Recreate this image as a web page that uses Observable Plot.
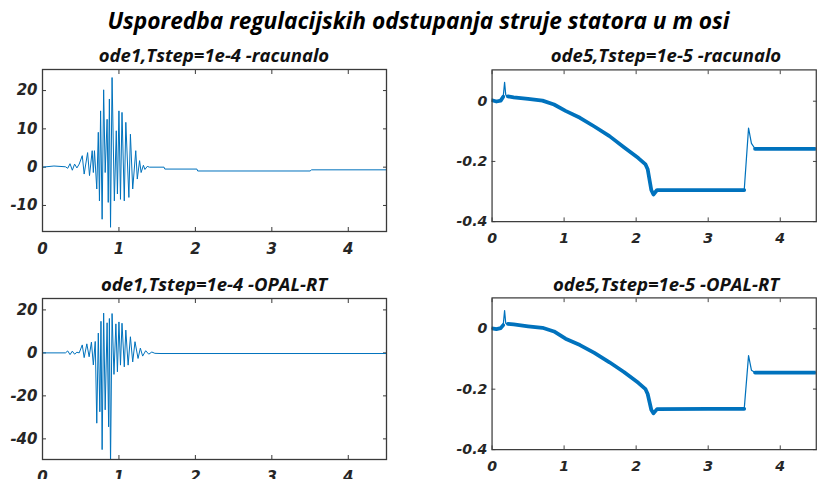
<!DOCTYPE html>
<html><head><meta charset="utf-8">
<script src="https://cdn.jsdelivr.net/npm/d3@7"></script>
<script src="https://cdn.jsdelivr.net/npm/@observablehq/plot@0.6"></script>
<style>
html,body{margin:0;padding:0;background:#fff;overflow:hidden;width:829px;height:479px;}
#wrap{position:relative;width:829px;height:479px;overflow:hidden;background:#fff;}
.title{position:absolute;left:0;width:829px;text-align:center;font-family:"Open Sans";font-weight:700;font-style:italic;color:#000;white-space:nowrap;}
.sub{position:absolute;width:400px;text-align:center;font-family:"Open Sans";font-weight:700;font-style:italic;font-size:18.5px;line-height:20px;color:#111;white-space:nowrap;}
.panel{position:absolute;}
</style></head>
<body><div id="wrap">
<div class="title" style="left:4px;top:8px;font-size:22.7px;line-height:26px">Usporedba regulacijskih odstupanja struje statora u m osi</div>
<div class="sub" style="left:14px;top:45px">ode1,Tstep=1e-4 -racunalo</div>
<div class="sub" style="left:466px;top:45px">ode5,Tstep=1e-5 -racunalo</div>
<div class="sub" style="left:14px;top:274px">ode1,Tstep=1e-4 -OPAL-RT</div>
<div class="sub" style="left:466px;top:274px">ode5,Tstep=1e-5 -OPAL-RT</div>
<div id="tl" class="panel" style="left:0px;top:60px"></div>
<div id="tr" class="panel" style="left:452px;top:60px"></div>
<div id="bl" class="panel" style="left:0px;top:288px"></div>
<div id="br" class="panel" style="left:452px;top:288px"></div>
</div>
<script>
// x ticks (time, s)
const xTicks = [0, 1, 2, 3, 4];
const xDomain = [0, 4.5];

// ode1, racunalo
const tlT = [0,0.15,0.3,0.33,0.36,0.39,0.42,0.45,0.48,0.52,0.545,0.59,0.615,0.65,0.665,0.68,0.71,0.73,0.745,0.76,0.78,0.80,0.82,0.845,0.86,0.875,0.89,0.91,0.94,0.965,0.98,1.0,1.02,1.04,1.07,1.09,1.13,1.15,1.18,1.22,1.24,1.27,1.29,1.32,1.34,1.37,1.4,1.59,1.6,2.02,2.03,3.5,3.52,4.5];
const tlV = [0,0.3,0.1,-0.3,0.9,-0.8,0.8,-0.2,0.8,3.0,-1.8,3.8,-2.2,4.3,-1.4,4.3,-5.7,9.1,-8.8,14.7,-13.6,20.2,-1.4,12.5,-9.2,17.8,-15.7,23.4,-8.8,9.5,-7,14.7,-8.4,14.3,-8.8,11.7,-7.9,8.6,-5.7,4.3,-3.1,1.7,-1.4,0.5,-0.6,0.2,0,0,-0.5,-0.5,-1.0,-1.0,-0.7,-0.7];
const tlYTicks = [-10, 0, 10, 20];

// ode1, OPAL-RT
const blT = [0,0.3,0.33,0.36,0.39,0.42,0.45,0.48,0.52,0.545,0.58,0.61,0.64,0.665,0.69,0.71,0.73,0.75,0.765,0.78,0.80,0.82,0.845,0.865,0.875,0.89,0.91,0.935,0.96,0.98,1.0,1.02,1.04,1.07,1.09,1.12,1.15,1.18,1.21,1.25,1.28,1.31,1.35,1.39,1.43,1.47,1.55,4.5];
const blV = [0,0,0.9,-0.8,0.8,-0.6,0.3,0,3.7,-2.2,4.2,-1.8,5.0,-5.6,5.3,-32.7,9.2,-27.4,14.7,-45,18.5,-26.5,14,-34.4,16,-52,18.3,-10,13.5,-8.8,14.4,-5.7,13.8,-6.5,10.6,-5.7,7.5,-4.2,5.2,-2.6,2.2,-1.5,1.0,-0.6,0.4,-0.2,-0.3,-0.3];
const blYTicks = [-40, -20, 0, 20];

// ode5, racunalo
const trT = [0,0.06,0.12,0.155,0.174,0.19,0.22,0.3,0.5,0.7,0.86,1.02,1.22,1.42,1.63,1.83,2.03,2.13,2.16,2.21,2.24,2.29,3.0,3.5,3.56,3.6,3.65,4.5];
const trV = [0.003,-0.001,0.002,0.015,0.063,0.021,0.016,0.013,0.008,0.002,-0.011,-0.032,-0.055,-0.084,-0.116,-0.153,-0.189,-0.21,-0.226,-0.295,-0.31,-0.295,-0.295,-0.295,-0.089,-0.14,-0.158,-0.158];

// ode5, OPAL-RT
const brT = [0,0.06,0.12,0.155,0.174,0.19,0.22,0.3,0.5,0.7,0.86,1.02,1.22,1.42,1.63,1.83,2.03,2.13,2.16,2.21,2.24,2.29,3.0,3.5,3.56,3.6,3.65,4.5];
const brV = [0.001,-0.001,0.002,0.012,0.06,0.018,0.016,0.014,0.008,0.003,-0.009,-0.033,-0.054,-0.08,-0.111,-0.143,-0.179,-0.2,-0.216,-0.268,-0.28,-0.266,-0.265,-0.265,-0.089,-0.137,-0.145,-0.145];
const rYTicks = [-0.4, -0.2, 0];

const blue = "#0072BD";
const axisColor = "#3a3a3a";
const font = {fontFamily: "DejaVu Sans", fontSize: 15, fontWeight: "bold", fontStyle: "italic"};

function rows(T, V) { return T.map((t, i) => ({t, v: V[i]})); }

function panel(el, T, V, yDomain, yTicks, mt, thick) {
  const data = rows(T, V);
  const marks = [
    Plot.axisX({ticks: xTicks, tickSize: -4, tickPadding: 16, tickFormat: d => String(d), label: null, stroke: axisColor, fill: "#262626", ...font}),
    Plot.axisX({anchor: "top", ticks: xTicks, tickSize: -4, tickFormat: () => "", label: null, stroke: axisColor}),
    Plot.axisY({ticks: yTicks, tickSize: -4, tickPadding: 9, tickFormat: d => String(d), label: null, stroke: axisColor, fill: "#262626", ...font}),
    Plot.axisY({anchor: "right", ticks: yTicks, tickSize: -4, tickFormat: () => "", label: null, stroke: axisColor}),
  ];
  if (thick) {
    const spike = t => (t > 0.16 && t < 0.2) || (t > 3.51 && t < 3.63);
    marks.push(Plot.line(data, {x: "t", y: "v", stroke: blue, strokeWidth: 1.3, clip: true}));
    marks.push(Plot.line(data, {x: "t", y: d => spike(d.t) ? NaN : d.v, stroke: blue, strokeWidth: 4, clip: true}));
  } else {
    marks.push(Plot.line(data, {x: "t", y: "v", stroke: blue, strokeWidth: 1, clip: true}));
  }
  marks.push(Plot.frame({stroke: axisColor, strokeWidth: 1.3}));
  const chart = Plot.plot({
    width: 400, height: 200,
    marginLeft: 42, marginRight: 14, marginTop: mt, marginBottom: 29,
    x: {domain: xDomain},
    y: {domain: yDomain},
    style: {background: "transparent", overflow: "visible"},
    marks
  });
  document.getElementById(el).appendChild(chart);
}

panel("tl", tlT, tlV, [-16.8, 25.5], tlYTicks, 9, false);
panel("tr", trT, trV, [-0.4, 0.104], rYTicks, 10, true);
panel("bl", blT, blV, [-49.6, 25.3], blYTicks, 10, false);
panel("br", brT, brV, [-0.4, 0.102], rYTicks, 10, true);
</script>
</body></html>
